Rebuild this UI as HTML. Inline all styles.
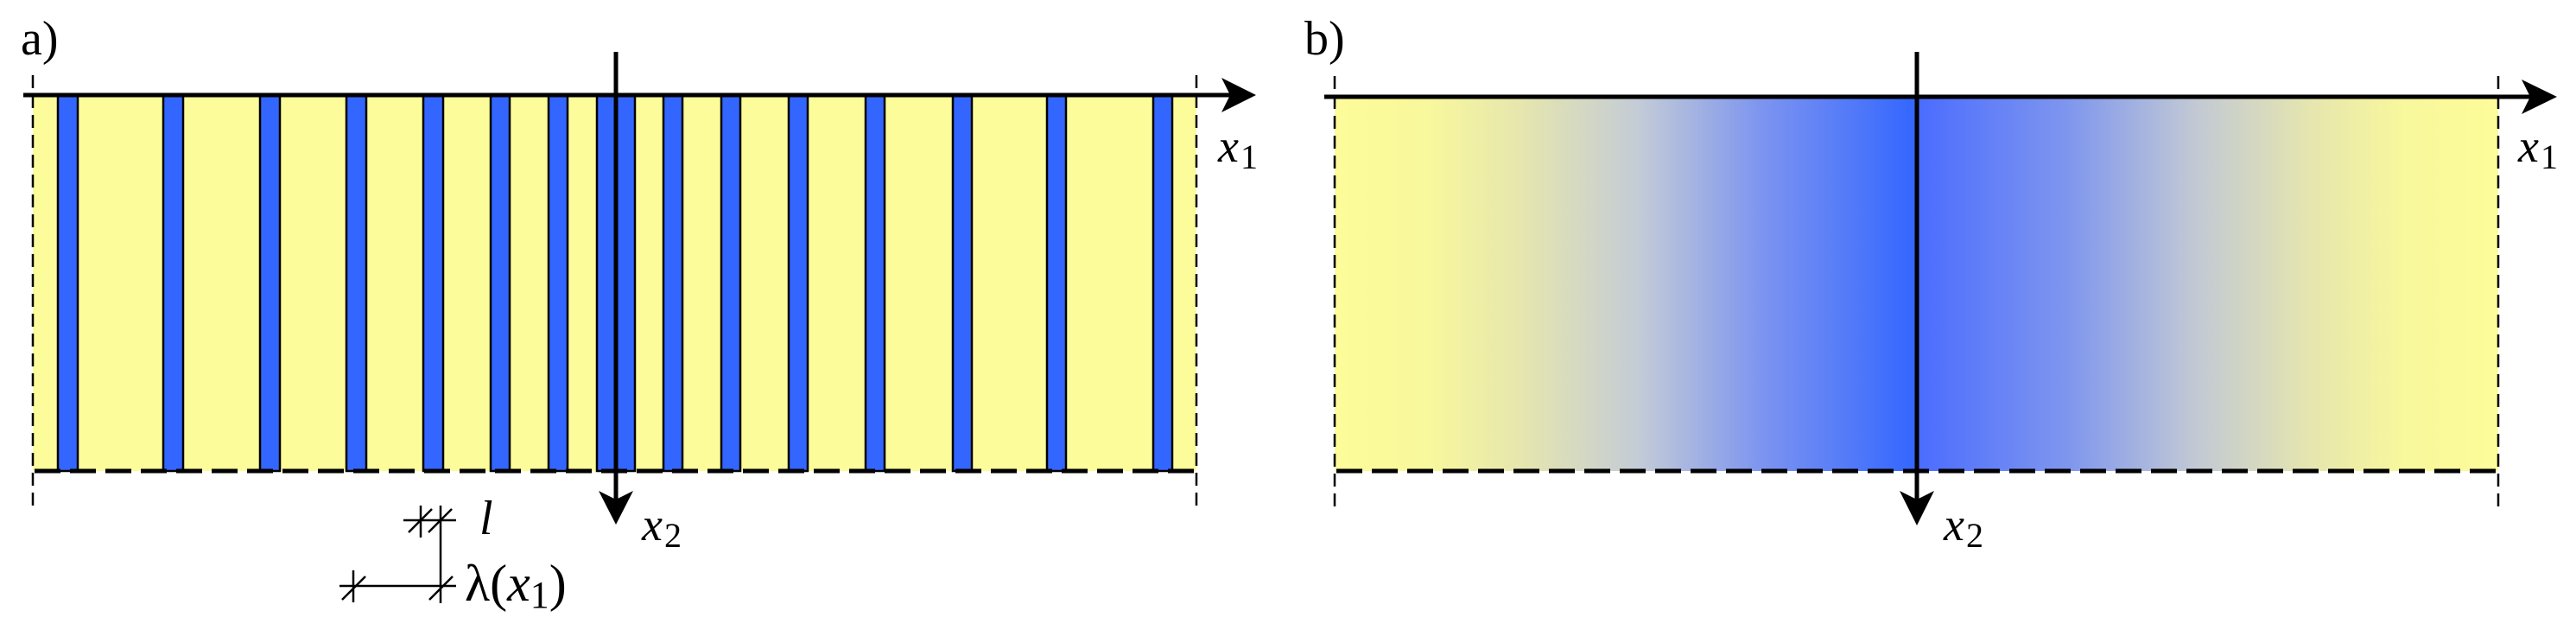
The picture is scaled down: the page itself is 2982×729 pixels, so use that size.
<!DOCTYPE html>
<html><head><meta charset="utf-8"><style>
html,body{margin:0;padding:0;background:#fff;}
svg{display:block;}
</style></head><body>
<svg width="2982" height="729" viewBox="0 0 2982 729" xmlns="http://www.w3.org/2000/svg" font-family="'Liberation Serif', 'DejaVu Serif', serif">
<defs>
<linearGradient id="g" x1="1545" y1="0" x2="2892" y2="0" gradientUnits="userSpaceOnUse">
<stop offset="0" stop-color="#fcfc9a"/>
<stop offset="0.08" stop-color="#f8f89c"/>
<stop offset="0.16" stop-color="#e6e6ae"/>
<stop offset="0.26" stop-color="#c4ccd6"/>
<stop offset="0.37" stop-color="#7b93f0"/>
<stop offset="0.5" stop-color="#3366ff"/>
<stop offset="0.5" stop-color="#4a6cff"/>
<stop offset="0.63" stop-color="#7f96ee"/>
<stop offset="0.74" stop-color="#c2c9d4"/>
<stop offset="0.84" stop-color="#e6e6ae"/>
<stop offset="0.92" stop-color="#f8f89c"/>
<stop offset="1" stop-color="#fcfc9a"/>
</linearGradient>
</defs>

<!-- Panel a -->
<rect x="38" y="110" width="1347" height="435" fill="#fcfc9a"/>
<g fill="#3366ff" stroke="#000" stroke-width="2.5">
<rect x="67" y="110" width="23" height="435"/>
<rect x="189" y="110" width="23" height="435"/>
<rect x="301" y="110" width="23" height="435"/>
<rect x="401" y="110" width="23" height="435"/>
<rect x="490" y="110" width="23" height="435"/>
<rect x="568" y="110" width="22" height="435"/>
<rect x="635" y="110" width="22" height="435"/>
<rect x="691" y="110" width="22" height="435"/>
<rect x="713" y="110" width="22" height="435"/>
<rect x="768" y="110" width="22" height="435"/>
<rect x="835" y="110" width="22" height="435"/>
<rect x="913" y="110" width="22" height="435"/>
<rect x="1002" y="110" width="22" height="435"/>
<rect x="1103" y="110" width="22" height="435"/>
<rect x="1212" y="110" width="22" height="435"/>
<rect x="1335" y="110" width="22" height="435"/>
</g>
<g stroke="#000" stroke-width="2.5" stroke-dasharray="15,8" fill="none">
<line x1="38" y1="87" x2="38" y2="588"/>
<line x1="1385" y1="87" x2="1385" y2="588"/>
</g>
<line x1="40" y1="545" x2="1385" y2="545" stroke="#000" stroke-width="5" stroke-dasharray="30,11"/>
<line x1="27" y1="110" x2="1430" y2="110" stroke="#000" stroke-width="5"/>
<polygon points="1454,110 1414,90 1424,110 1414,130" fill="#000"/>
<line x1="713" y1="60" x2="713" y2="585" stroke="#000" stroke-width="5"/>
<polygon points="713,607 693,568 713,578 733,568" fill="#000"/>
<text x="24" y="63" font-size="56">a)</text>
<text x="1410" y="187" font-size="54" font-style="italic">x</text><text x="1436" y="195" font-size="40">1</text>
<text x="743" y="625" font-size="54" font-style="italic">x</text><text x="769" y="633" font-size="40">2</text>

<!-- scale bar -->
<g stroke="#000" stroke-width="2.5" fill="none">
<line x1="393" y1="678" x2="528" y2="678"/>
<line x1="510" y1="585" x2="510" y2="698"/>
<line x1="467" y1="602" x2="528" y2="602"/>
<line x1="487" y1="585" x2="487" y2="622"/>
<line x1="409" y1="660" x2="409" y2="697"/>
<line x1="473" y1="616" x2="500" y2="589"/>
<line x1="496" y1="616" x2="523" y2="589"/>
<line x1="396" y1="694" x2="423" y2="667"/>
<line x1="497" y1="694" x2="524" y2="667"/>
</g>
<text x="555" y="618" font-size="56" font-style="italic">l</text>
<text x="538" y="695" font-size="60">λ(<tspan font-style="italic">x</tspan><tspan font-size="44" dy="8">1</tspan><tspan dy="-8">)</tspan></text>

<!-- Panel b -->
<rect x="1545" y="112" width="1347" height="433" fill="url(#g)"/>
<g stroke="#000" stroke-width="2.5" stroke-dasharray="15,8" fill="none">
<line x1="1545" y1="88" x2="1545" y2="588"/>
<line x1="2892" y1="88" x2="2892" y2="588"/>
</g>
<line x1="1547" y1="545" x2="2892" y2="545" stroke="#000" stroke-width="5" stroke-dasharray="30,11"/>
<line x1="1533" y1="112" x2="2935" y2="112" stroke="#000" stroke-width="5"/>
<polygon points="2960,112 2919,92 2929,112 2919,132" fill="#000"/>
<line x1="2219" y1="60" x2="2219" y2="585" stroke="#000" stroke-width="5"/>
<polygon points="2219,608 2199,568 2219,578 2239,568" fill="#000"/>
<text x="1510" y="63" font-size="56">b)</text>
<text x="2915" y="187" font-size="54" font-style="italic">x</text><text x="2941" y="195" font-size="40">1</text>
<text x="2250" y="625" font-size="54" font-style="italic">x</text><text x="2276" y="633" font-size="40">2</text>
</svg>
</body></html>
